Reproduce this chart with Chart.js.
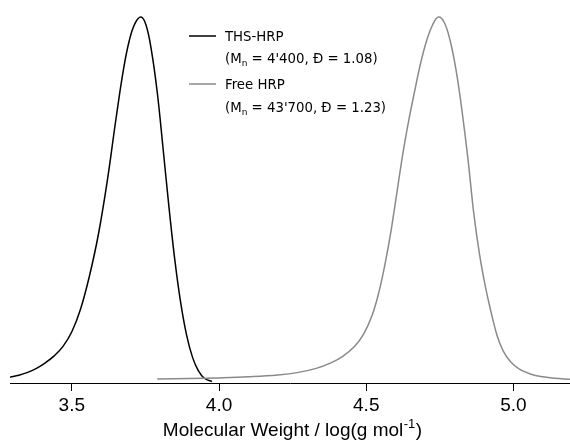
<!DOCTYPE html>
<html>
<head>
<meta charset="utf-8">
<script src="https://cdn.jsdelivr.net/npm/chart.js@4/dist/chart.umd.min.js"></script>
<style>
  html, body { margin: 0; padding: 0; background: #fff; }
  #wrap { width: 570px; height: 441px; position: relative; }
</style>
</head>
<body>
<div id="wrap"><canvas id="c" width="570" height="441"></canvas></div>
<script>
// ---- data ----
const thsX = [3.290, 3.320, 3.350, 3.380, 3.410, 3.440, 3.470, 3.500, 3.530, 3.560, 3.590, 3.620, 3.650, 3.675, 3.695, 3.715, 3.735, 3.752, 3.770, 3.790, 3.810, 3.830, 3.850, 3.870, 3.890, 3.910, 3.930, 3.950, 3.976];
const thsY = [0.016, 0.021, 0.029, 0.040, 0.055, 0.074, 0.100, 0.140, 0.203, 0.293, 0.405, 0.550, 0.722, 0.855, 0.935, 0.983, 1.000, 0.978, 0.910, 0.795, 0.640, 0.480, 0.335, 0.218, 0.130, 0.070, 0.033, 0.013, 0.004];

const freeX = [3.790, 3.900, 4.000, 4.100, 4.200, 4.270, 4.330, 4.380, 4.420, 4.460, 4.490, 4.520, 4.545, 4.565, 4.585, 4.605, 4.625, 4.645, 4.665, 4.685, 4.705, 4.725, 4.745, 4.765, 4.785, 4.805, 4.825, 4.845, 4.865, 4.885, 4.905, 4.925, 4.945, 4.965, 4.990, 5.020, 5.060, 5.100, 5.140, 5.192];
const freeY = [0.011, 0.012, 0.014, 0.017, 0.022, 0.029, 0.040, 0.055, 0.073, 0.100, 0.132, 0.185, 0.255, 0.330, 0.420, 0.525, 0.630, 0.720, 0.800, 0.875, 0.935, 0.978, 1.000, 0.985, 0.935, 0.855, 0.745, 0.615, 0.465, 0.350, 0.262, 0.190, 0.128, 0.088, 0.058, 0.038, 0.024, 0.017, 0.013, 0.010];

const xTicks = [3.5, 4.0, 4.5, 5.0];
const seriesNames = ['THS-HRP', 'Free HRP'];
const mnValues = ["4'400", "43'700"];
const dispersity = ['1.08', '1.23'];
const seriesColors = ['#000000', '#8a8a8a'];
const xTitle = 'Molecular Weight / log(g mol';
const xTitleSup = '-1';

function pts(xs, ys) { return xs.map((x, i) => ({ x: x, y: ys[i] })); }

const TICK_FONT = '"Liberation Sans", Arial, Helvetica, sans-serif';
const LEG_FONT = '"DejaVu Sans", sans-serif';

const overlay = {
  id: 'overlay',
  afterDraw(chart) {
    const ctx = chart.ctx;
    ctx.save();
    ctx.fillStyle = '#000';
    ctx.textBaseline = 'alphabetic';

    // axis title with superscript
    ctx.font = '19px ' + TICK_FONT;
    const w1 = ctx.measureText(xTitle).width;
    ctx.font = '13px ' + TICK_FONT;
    const w2 = ctx.measureText(xTitleSup).width;
    ctx.font = '19px ' + TICK_FONT;
    const w3 = ctx.measureText(')').width;
    const area = chart.chartArea;
    const cx = (area.left + area.right) / 2 + 2;
    let x0 = cx - (w1 + w2 + w3) / 2;
    const by = 436;
    ctx.textAlign = 'left';
    ctx.fillText(xTitle, x0, by);
    ctx.font = '13px ' + TICK_FONT;
    ctx.fillText(xTitleSup, x0 + w1 + 0.5, by - 8);
    ctx.font = '19px ' + TICK_FONT;
    ctx.fillText(')', x0 + w1 + w2 + 1, by);

    // legend
    const baselines = [[41, 63], [89, 111.5]];
    for (let i = 0; i < seriesNames.length; i++) {
      const lineY = baselines[i][0] - 5;
      ctx.strokeStyle = seriesColors[i];
      ctx.lineWidth = 1.5;
      ctx.beginPath();
      ctx.moveTo(189, lineY);
      ctx.lineTo(216, lineY);
      ctx.stroke();
      ctx.fillStyle = '#000';
      ctx.font = '13.3px ' + LEG_FONT;
      ctx.fillText(seriesNames[i], 225, baselines[i][0]);
      let x = 225;
      const b = baselines[i][1];
      ctx.font = '13.3px ' + LEG_FONT;
      ctx.fillText('(M', x, b); x += ctx.measureText('(M').width;
      ctx.font = '9px ' + LEG_FONT;
      ctx.fillText('n', x, b + 3); x += ctx.measureText('n').width;
      ctx.font = '13.3px ' + LEG_FONT;
      const rest = ' = ' + mnValues[i] + ', \u0110 = ' + dispersity[i] + ')';
      ctx.fillText(rest, x, b);
    }
    ctx.restore();
  }
};

new Chart(document.getElementById('c'), {
  type: 'line',
  data: {
    datasets: [
      { label: seriesNames[1], data: pts(freeX, freeY), borderColor: seriesColors[1], borderWidth: 1.5, pointRadius: 0, tension: 0.4, fill: false },
      { label: seriesNames[0], data: pts(thsX, thsY), borderColor: seriesColors[0], borderWidth: 1.5, pointRadius: 0, tension: 0.4, fill: false }
    ]
  },
  options: {
    responsive: false,
    animation: false,
    devicePixelRatio: 1,
    layout: { padding: { left: 10, right: 0, top: 0, bottom: 0 } },
    plugins: { legend: { display: false }, tooltip: { enabled: false } },
    scales: {
      x: {
        type: 'linear',
        min: 3.290,
        max: 5.192,
        afterBuildTicks: (s) => { s.ticks = xTicks.map(v => ({ value: v })); },
        afterFit: (s) => { s.height = 58; },
        grid: { display: true, drawOnChartArea: false, drawTicks: true, tickLength: 8, color: '#000', lineWidth: 1 },
        border: { display: true, color: '#000', width: 1 },
        ticks: {
          autoSkip: false, maxRotation: 0, padding: 3, color: '#000',
          font: { family: TICK_FONT, size: 19 },
          callback: (v) => Number(v).toFixed(1)
        },
        title: { display: false }
      },
      y: {
        display: false,
        min: 0,
        max: 1.0464
      }
    }
  },
  plugins: [overlay]
});
</script>
</body>
</html>
